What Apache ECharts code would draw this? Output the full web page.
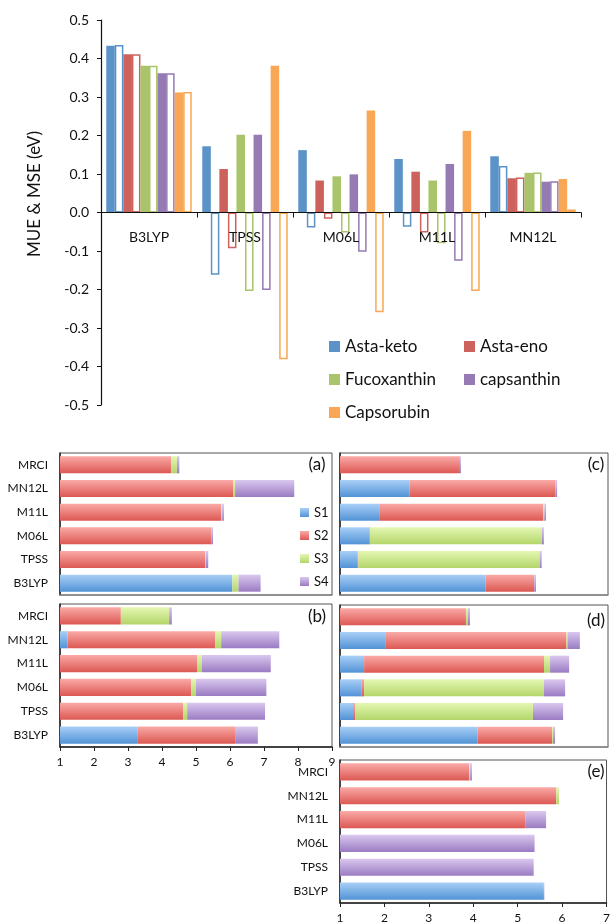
<!DOCTYPE html>
<html>
<head>
<meta charset="utf-8">
<script src="https://cdn.jsdelivr.net/npm/echarts@6/dist/echarts.min.js"></script>
<style>
html,body{margin:0;padding:0;background:#fff;}
#chart{width:613px;height:924px;}
</style>
</head>
<body>
<div id="chart"></div>
<script>
// ---------- Top chart data ----------
const methods = ['B3LYP', 'TPSS', 'M06L', 'M11L', 'MN12L'];
const molecules = ['Asta-keto', 'Asta-eno', 'Fucoxanthin', 'capsanthin', 'Capsorubin'];
const yTicks = [-0.5, 0.5, 0.1];

const astaKetoMUE = [0.433, 0.172, 0.162, 0.139, 0.146];
const astaKetoMSE = [0.435, -0.162, -0.039, -0.037, 0.121];
const astaEnoMUE  = [0.411, 0.113, 0.083, 0.106, 0.089];
const astaEnoMSE  = [0.411, -0.093, -0.016, -0.052, 0.091];
const fucoMUE     = [0.381, 0.202, 0.094, 0.083, 0.103];
const fucoMSE     = [0.381, -0.204, -0.052, -0.080, 0.104];
const capsanMUE   = [0.362, 0.202, 0.099, 0.126, 0.080];
const capsanMSE   = [0.362, -0.201, -0.102, -0.125, 0.081];
const capsoMUE    = [0.312, 0.381, 0.265, 0.212, 0.087];
const capsoMSE    = [0.313, -0.381, -0.259, -0.204, 0.008];

// ---------- Bottom panels data ----------
const rows = ['B3LYP', 'TPSS', 'M06L', 'M11L', 'MN12L', 'MRCI'];
const states = ['S1', 'S2', 'S3', 'S4'];
const panelNames = ['(a)', '(b)', '(c)', '(d)', '(e)'];

const aS1 = [6.07, 0, 0, 0, 0, 0];
const aS2 = [0, 5.27, 5.46, 5.74, 6.10, 4.27];
const aS3 = [0.18, 0.02, 0, 0.03, 0.05, 0.17];
const aS4 = [0.65, 0.07, 0.04, 0.05, 1.74, 0.07];

const bS1 = [3.29, 0, 0, 0, 1.22, 0];
const bS2 = [2.88, 4.62, 4.86, 5.03, 4.35, 2.79];
const bS3 = [0, 0.12, 0.14, 0.14, 0.17, 1.42];
const bS4 = [0.65, 2.29, 2.07, 2.03, 1.71, 0.08];

const cS1 = [5.35, 1.53, 1.875, 2.17, 3.07, 0];
const cS2 = [1.45, 0.02, 0.02, 4.90, 4.36, 4.58];
const cS3 = [0, 5.41, 5.13, 0.03, 0, 0];
const cS4 = [0.05, 0.06, 0.06, 0.05, 0.05, 0.03];

const dS1 = [5.11, 1.39, 1.64, 1.72, 2.37, 0];
const dS2 = [2.22, 0.06, 0.08, 5.37, 5.39, 4.76];
const dS3 = [0.03, 5.31, 5.37, 0.18, 0.03, 0.05];
const dS4 = [0.06, 0.90, 0.63, 0.57, 0.37, 0.07];

const eS1 = [5.57, 0, 0, 0, 0, 0];
const eS2 = [0, 0, 0, 5.18, 5.87, 3.91];
const eS3 = [0, 0, 0, 0, 0.06, 0.02];
const eS4 = [0.03, 5.36, 5.38, 0.46, 0, 0.04];

const panelRangeAB = [1, 9, 1];
const panelRangeE = [1, 7, 1];

// ---------- build ----------
const FONT = 'Lato, "Open Sans", sans-serif';
const molColors = ['#5b93c9', '#cd625c', '#a9c46a', '#957ab4', '#f9a655'];
const mue = [astaKetoMUE, astaEnoMUE, fucoMUE, capsanMUE, capsoMUE];
const mse = [astaKetoMSE, astaEnoMSE, fucoMSE, capsanMSE, capsoMSE];

function grad(top, bottom) {
  return new echarts.graphic.LinearGradient(0, 0, 0, 1, [
    {offset: 0, color: top}, {offset: 1, color: bottom}
  ]);
}
const stateGrad = [
  ['#a9cff7', '#5293d6'],
  ['#faaaa7', '#dc5853'],
  ['#e4f7b2', '#b3d56a'],
  ['#dac8ef', '#9a7bc2']
];
const panels = [
  {s: [aS1, aS2, aS3, aS4], grid: {left: 60, top: 453, width: 272, height: 142}, range: panelRangeAB, yl: true, xl: false},
  {s: [bS1, bS2, bS3, bS4], grid: {left: 60, top: 604, width: 272, height: 143}, range: panelRangeAB, yl: true, xl: true},
  {s: [cS1, cS2, cS3, cS4], grid: {left: 340, top: 453, width: 268, height: 142}, range: panelRangeAB, yl: false, xl: false},
  {s: [dS1, dS2, dS3, dS4], grid: {left: 340, top: 605, width: 268, height: 142}, range: panelRangeAB, yl: false, xl: false},
  {s: [eS1, eS2, eS3, eS4], grid: {left: 340, top: 760, width: 270, height: 143}, range: panelRangeE, yl: true, xl: true}
];
const panelLabelPos = [[317, 465], [317, 617], [596, 465], [596, 621], [596, 772]];

const topGrid = {left: 101, top: 20, width: 480, height: 385};
const grids = [topGrid];
const xAxes = [{
  type: 'category', gridIndex: 0, data: methods, z: 10,
  offset: -topGrid.height / 2,
  axisLine: {onZero: false, lineStyle: {color: '#111', width: 1.2}},
  axisTick: {show: true, length: 5, lineStyle: {color: '#111'}},
  axisLabel: {margin: 18, fontSize: 14, color: '#111', fontFamily: FONT, interval: 0},
  splitLine: {show: false}
}];
const yAxes = [{
  type: 'value', gridIndex: 0, min: yTicks[0], max: yTicks[1], interval: yTicks[2],
  axisLine: {show: true, lineStyle: {color: '#111', width: 1.2}},
  axisTick: {show: true, length: 4, lineStyle: {color: '#111'}},
  axisLabel: {margin: 12, fontSize: 14, color: '#111', fontFamily: FONT,
    formatter: v => (Math.round(v * 10) / 10).toFixed(1)},
  splitLine: {show: false}
}];
const series = [];
molecules.forEach((m, i) => {
  series.push({
    name: m, type: 'bar', xAxisIndex: 0, yAxisIndex: 0, data: mue[i],
    itemStyle: {color: molColors[i]}, barGap: '0%', barCategoryGap: '11%'
  });
  series.push({
    name: m + ' MSE', type: 'bar', xAxisIndex: 0, yAxisIndex: 0, data: mse[i],
    itemStyle: {color: '#ffffff', borderColor: molColors[i], borderWidth: 1.5},
    barGap: '0%', barCategoryGap: '11%'
  });
});

panels.forEach((p, k) => {
  const gi = k + 1;
  grids.push(Object.assign({show: true, borderColor: '#555', borderWidth: 1, backgroundColor: 'transparent'}, p.grid));
  xAxes.push({
    type: 'value', gridIndex: gi, min: p.range[0], max: p.range[1], interval: p.range[2],
    axisLine: {show: true, onZero: false, lineStyle: {color: p.xl ? '#222' : '#888', width: 1.5}},
    axisTick: {show: p.xl, length: 4, lineStyle: {color: '#222'}},
    axisLabel: {show: p.xl, margin: 9, fontSize: 12, color: '#111', fontFamily: FONT},
    splitLine: {show: false}
  });
  yAxes.push({
    type: 'category', gridIndex: gi, data: rows,
    axisLine: {show: true, onZero: false, lineStyle: {color: '#222', width: 1.5}},
    axisTick: {show: false},
    axisLabel: {show: p.yl, margin: 12, fontSize: 12, color: '#111', fontFamily: FONT},
    splitLine: {show: false}
  });
  states.forEach((s, j) => {
    series.push({
      name: s, type: 'bar', xAxisIndex: gi, yAxisIndex: gi, stack: 'p' + k,
      data: p.s[j], barCategoryGap: '28%',
      itemStyle: {color: grad(stateGrad[j][0], stateGrad[j][1])}
    });
  });
});

const graphics = [{
  type: 'text', x: 35, y: 194, rotation: Math.PI / 2,
  style: {text: 'MUE & MSE (eV)', font: '17px ' + FONT, fill: '#111', textAlign: 'center', textVerticalAlign: 'middle'}
}];
panelNames.forEach((t, k) => {
  graphics.push({
    type: 'text', x: panelLabelPos[k][0], y: panelLabelPos[k][1],
    style: {text: t, font: '17px ' + FONT, fill: '#111', textAlign: 'center', textVerticalAlign: 'middle'}
  });
});

const option = {
  animation: false,
  backgroundColor: '#fff',
  textStyle: {fontFamily: FONT},
  grid: grids,
  xAxis: xAxes,
  yAxis: yAxes,
  legend: [
    {data: ['Asta-keto', 'Fucoxanthin', 'Capsorubin'], orient: 'vertical', left: 324, top: 333,
      icon: 'rect', itemWidth: 11, itemHeight: 11, itemGap: 16,
      textStyle: {fontSize: 17, color: '#111', fontFamily: FONT}, selectedMode: false},
    {data: ['Asta-eno', 'capsanthin'], orient: 'vertical', left: 459, top: 333,
      icon: 'rect', itemWidth: 11, itemHeight: 11, itemGap: 16,
      textStyle: {fontSize: 17, color: '#111', fontFamily: FONT}, selectedMode: false},
    {data: states, orient: 'vertical', left: 295, top: 501,
      icon: 'rect', itemWidth: 9, itemHeight: 9, itemGap: 10,
      textStyle: {fontSize: 13, color: '#111', fontFamily: FONT}, selectedMode: false}
  ],
  graphic: graphics,
  series: series
};
const chart = echarts.init(document.getElementById('chart'), null, {renderer: 'canvas'});
chart.setOption(option);
</script>
</body>
</html>
